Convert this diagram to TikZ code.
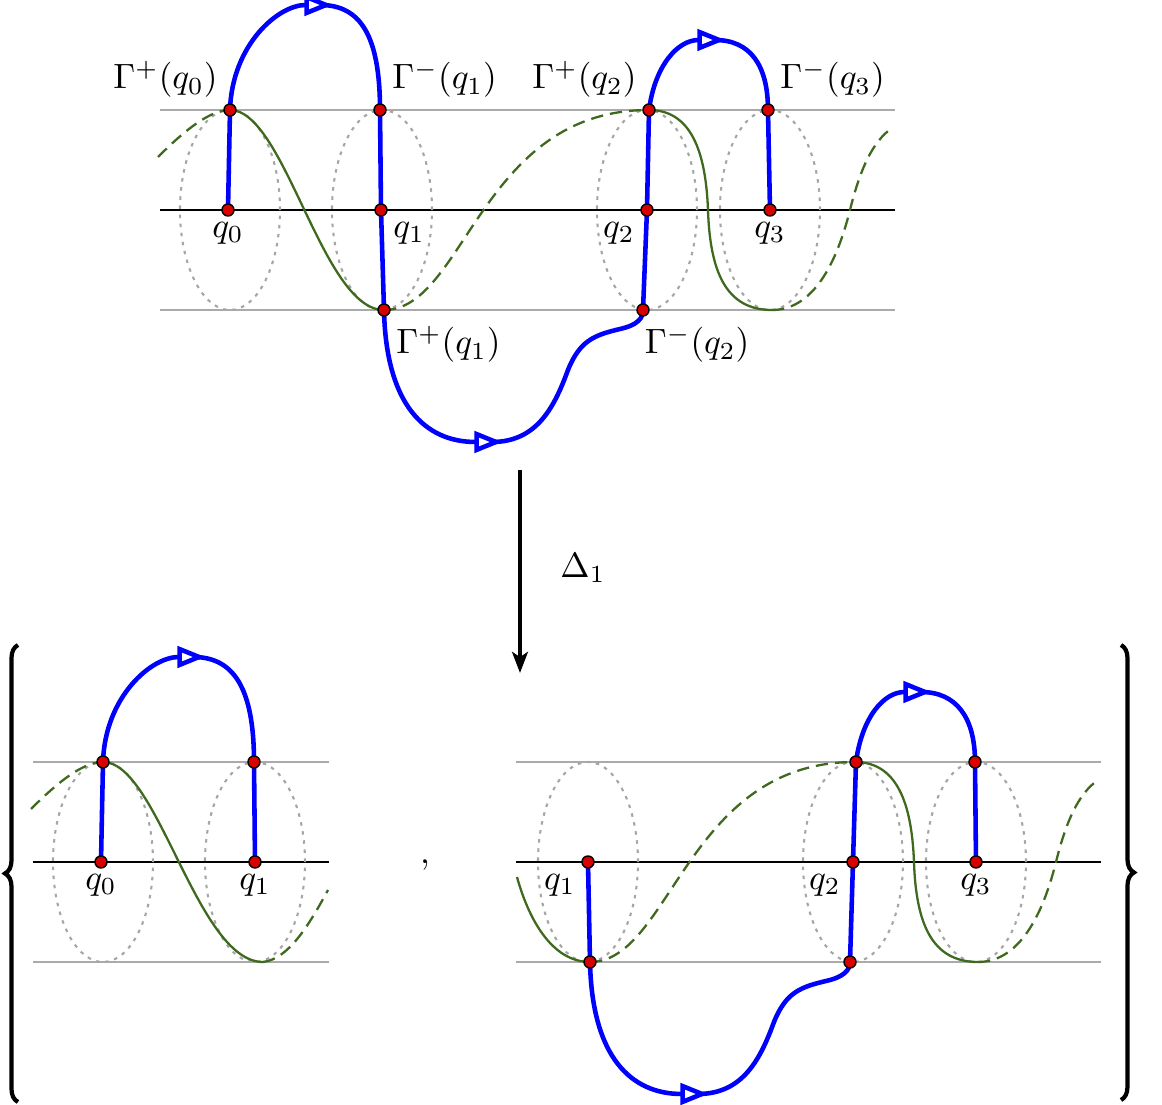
\documentclass[tikz,border=0pt]{standalone}
\usetikzlibrary{arrows.meta,decorations.pathreplacing}
\definecolor{leafgreen}{RGB}{62,105,30}
\definecolor{railgray}{RGB}{170,170,170}
\tikzset{
  rail/.style={railgray,line width=0.7pt},
  axis/.style={black,line width=0.7pt},
  orbit/.style={black!35,line width=0.6pt,dash pattern=on 1pt off 1.6pt},
  flow/.style={blue,line width=1.3pt,line join=round},
  flowtip/.style={-{Triangle[open,length=8pt,width=6pt]},shorten >=-3pt},
  leaf/.style={leafgreen,line width=0.65pt},
  leafback/.style={leafgreen,line width=0.65pt,dash pattern=on 3.5pt off 2pt},
  dot/.style={fill=red!85!black,draw=black,line width=0.4pt},
  bigbrace/.style={decorate,decoration={brace,amplitude=0.13cm,aspect=0.5},line width=1.2pt},
}
\begin{document}
\begin{tikzpicture}
  \useasboundingbox (0,0) rectangle (11.62,11.05);
  % top picture
  \begin{scope}[yshift=8.95cm]
    \draw[rail] (1.60,1) -- (8.95,1);
    \draw[rail] (1.60,-1) -- (8.95,-1);
    \draw[axis] (1.60,0) -- (8.95,0);
    \foreach \x in {2.30,3.82,6.47,7.70}
      \draw[orbit] (\x,0) ellipse (0.5 and 1);
    \draw[leafback] (1.58,0.53) .. controls (1.85,0.80) and (2.10,1) .. (2.30,1);
    \draw[leaf] (2.30,1) .. controls (2.85,1) and (3.22,-1) .. (3.84,-1);
    \draw[leafback] (3.84,-1) .. controls (4.65,-1) and (4.80,1) .. (6.49,1);
    \draw[leaf] (6.49,1) .. controls (6.95,1) and (7.06,0.5) .. (7.08,0)
      .. controls (7.10,-0.6) and (7.25,-1) .. (7.72,-1);
    \draw[leafback] (7.72,-1) .. controls (8.10,-1) and (8.35,-0.6) .. (8.50,0)
      .. controls (8.60,0.4) and (8.72,0.68) .. (8.92,0.82);
    \coordinate (q0) at (2.28,0);
    \coordinate (gp0) at (2.30,1);
    \coordinate (gm1) at (3.80,1);
    \coordinate (q1) at (3.81,0);
    \coordinate (gp1) at (3.84,-1);
    \coordinate (gm2) at (6.43,-1);
    \coordinate (q2) at (6.47,0);
    \coordinate (gp2) at (6.49,1);
    \coordinate (gm3) at (7.68,1);
    \coordinate (q3) at (7.70,0);
    \coordinate (a1) at (3.22,2.05);
    \coordinate (a2) at (4.92,-2.32);
    \coordinate (a3) at (7.15,1.70);
    \draw[flow,flowtip] (q0) -- (gp0) .. controls (2.32,1.65) and (2.78,2.05) .. (a1);
    \draw[flow,flowtip] (a1) .. controls (3.60,2.04) and (3.80,1.75) .. (gm1) -- (q1) -- (gp1)
      .. controls (3.86,-1.95) and (4.25,-2.32) .. (a2);
    \draw[flow,flowtip] (a2) .. controls (5.38,-2.32) and (5.55,-1.95) .. (5.68,-1.60)
      .. controls (5.80,-1.30) and (5.95,-1.25) .. (6.20,-1.19)
      .. controls (6.38,-1.15) and (6.43,-1.08) .. (gm2) -- (q2) -- (gp2)
      .. controls (6.55,1.45) and (6.78,1.70) .. (a3);
    \draw[flow] (a3) .. controls (7.50,1.70) and (7.68,1.45) .. (gm3) -- (q3);
    \foreach \p in {q0,gp0,gm1,q1,gp1,gm2,q2,gp2,gm3,q3}
      \filldraw[dot] (\p) circle (0.06);
    \node[above left] (tgp0) at (gp0) {$\Gamma^+(q_0)$};
    \node[above right] (tgm1) at (gm1) {$\Gamma^-(q_1)$};
    \node[above left] (tgp2) at (gp2) {$\Gamma^+(q_2)$};
    \node[above right] (tgm3) at (gm3) {$\Gamma^-(q_3)$};
    \node[below right,yshift=-1pt] (tgp1) at (gp1) {$\Gamma^+(q_1)$};
    \node[below right,xshift=-3pt,yshift=-1pt] (tgm2) at (gm2) {$\Gamma^-(q_2)$};
    \node[below] (tq0) at (q0) {$q_0$};
    \node[below right] (tq1) at (q1) {$q_1$};
    \node[below left] (tq2) at (q2) {$q_2$};
    \node[below] (tq3) at (q3) {$q_3$};
  \end{scope}

  % the map
  \coordinate (d1) at (5.20,6.35);
  \coordinate (d2) at (5.20,4.32);
  \draw[line width=1.3pt,-{Stealth[length=6pt,width=4.5pt,inset=1.5pt]}] (d1) -- (d2);
  \node (tdelta) at (5.83,5.37) {$\Delta_1$};

  % left piece
  \begin{scope}[xshift=-1.27cm,yshift=2.43cm]
    \draw[rail] (1.60,1) -- (4.56,1);
    \draw[rail] (1.60,-1) -- (4.56,-1);
    \draw[axis] (1.60,0) -- (4.56,0);
    \foreach \x in {2.30,3.82}
      \draw[orbit] (\x,0) ellipse (0.5 and 1);
    \draw[leafback] (1.58,0.53) .. controls (1.85,0.80) and (2.10,1) .. (2.30,1);
    \draw[leaf] (2.30,1) .. controls (2.85,1) and (3.24,-1) .. (3.90,-1);
    \draw[leafback] (3.90,-1) .. controls (4.15,-0.97) and (4.35,-0.65) .. (4.55,-0.28);
    \coordinate (lq0) at (2.28,0);
    \coordinate (lgp0) at (2.30,1);
    \coordinate (lgm1) at (3.81,1);
    \coordinate (lq1) at (3.82,0);
    \coordinate (la1) at (3.22,2.05);
    \draw[flow,flowtip] (lq0) -- (lgp0) .. controls (2.32,1.65) and (2.78,2.05) .. (la1);
    \draw[flow] (la1) .. controls (3.60,2.04) and (3.81,1.75) .. (lgm1) -- (lq1);
    \foreach \p in {lq0,lgp0,lgm1,lq1}
      \filldraw[dot] (\p) circle (0.06);
    \node[below] (tlq0) at (lq0) {$q_0$};
    \node[below] (tlq1) at (lq1) {$q_1$};
  \end{scope}

  \node (comma) at (4.25,2.40) {,};

  % right piece
  \begin{scope}[xshift=2.06cm,yshift=2.43cm]
    \draw[rail] (3.10,1) -- (8.95,1);
    \draw[rail] (3.10,-1) -- (8.95,-1);
    \draw[axis] (3.10,0) -- (8.95,0);
    \foreach \x in {3.82,6.47,7.70}
      \draw[orbit] (\x,0) ellipse (0.5 and 1);
    \draw[leaf] (3.11,-0.15) .. controls (3.22,-0.55) and (3.45,-1) .. (3.84,-1);
    \draw[leafback] (3.84,-1) .. controls (4.65,-1) and (4.80,1) .. (6.49,1);
    \draw[leaf] (6.49,1) .. controls (6.95,1) and (7.06,0.5) .. (7.08,0)
      .. controls (7.10,-0.6) and (7.25,-1) .. (7.72,-1);
    \draw[leafback] (7.72,-1) .. controls (8.10,-1) and (8.35,-0.6) .. (8.50,0)
      .. controls (8.60,0.4) and (8.72,0.68) .. (8.92,0.82);
    \coordinate (rq1) at (3.82,0);
    \coordinate (rgp1) at (3.84,-1);
    \coordinate (rgm2) at (6.44,-1);
    \coordinate (rq2) at (6.47,0);
    \coordinate (rgp2) at (6.50,1);
    \coordinate (rgm3) at (7.69,1);
    \coordinate (rq3) at (7.70,0);
    \coordinate (ra2) at (4.92,-2.32);
    \coordinate (ra3) at (7.15,1.70);
    \draw[flow,flowtip] (rq1) -- (rgp1) .. controls (3.86,-1.95) and (4.25,-2.32) .. (ra2);
    \draw[flow,flowtip] (ra2) .. controls (5.38,-2.32) and (5.55,-1.95) .. (5.68,-1.60)
      .. controls (5.80,-1.30) and (5.95,-1.25) .. (6.20,-1.19)
      .. controls (6.38,-1.15) and (6.44,-1.08) .. (rgm2) -- (rq2) -- (rgp2)
      .. controls (6.56,1.45) and (6.78,1.70) .. (ra3);
    \draw[flow] (ra3) .. controls (7.50,1.70) and (7.69,1.45) .. (rgm3) -- (rq3);
    \foreach \p in {rq1,rgp1,rgm2,rq2,rgp2,rgm3,rq3}
      \filldraw[dot] (\p) circle (0.06);
    \node[below left] (trq1) at (rq1) {$q_1$};
    \node[below left] (trq2) at (rq2) {$q_2$};
    \node[below] (trq3) at (rq3) {$q_3$};
  \end{scope}

  % braces
  \coordinate (lb1) at (0.18,0.03);
  \coordinate (lb2) at (0.18,4.60);
  \coordinate (rb1) at (11.21,4.60);
  \coordinate (rb2) at (11.21,0.05);
  \draw[bigbrace] (lb1) -- (lb2);
  \draw[bigbrace] (rb1) -- (rb2);
\end{tikzpicture}
\end{document}
